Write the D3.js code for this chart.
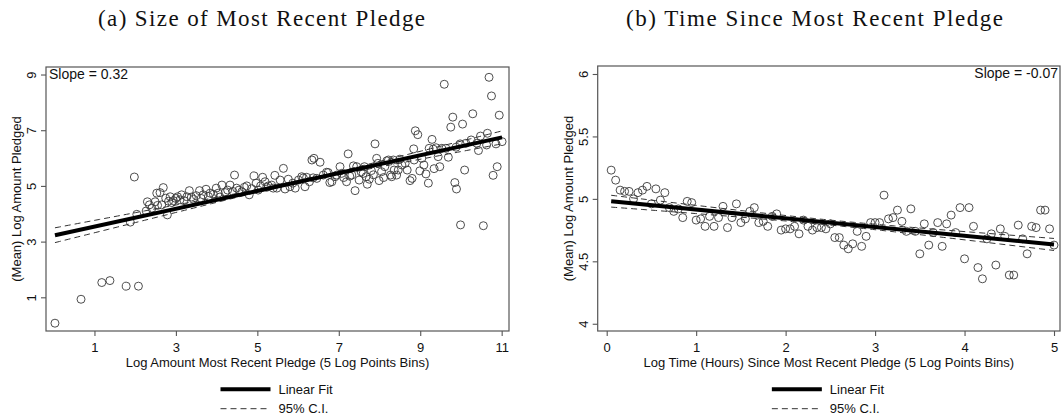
<!DOCTYPE html>
<html>
<head>
<meta charset="utf-8">
<script src="https://cdn.jsdelivr.net/npm/d3@7"></script>
<style>
  html, body { margin: 0; padding: 0; background: #fff; }
  svg { display: block; }
</style>
</head>
<body>
<svg id="chart" width="1064" height="419"></svg>
<script>
// Panel (a): bins of log size of the most recent pledge -> mean log amount pledged
const sizeBins = [
  [0.03,0.07],[0.67,0.93],[1.18,1.53],[1.38,1.60],[1.78,1.40],[1.88,3.70],[1.98,5.32],[2.04,3.98],[2.08,1.40],
  [2.27,4.10],[2.30,4.43],[2.35,4.32],[2.41,4.20],[2.49,4.43],[2.53,4.74],[2.55,4.30],[2.61,4.76],[2.65,4.32],
  [2.69,4.94],[2.75,4.56],[2.79,3.96],[2.82,4.45],[2.86,4.61],[2.90,4.40],[2.94,4.47],[3.00,4.55],[3.04,4.61],
  [3.10,4.50],[3.14,4.68],[3.20,4.47],[3.27,4.61],[3.33,4.83],[3.38,4.60],[3.43,4.52],[3.50,4.65],[3.58,4.83],
  [3.62,4.55],[3.67,4.68],[3.74,4.88],[3.80,4.62],[3.84,4.74],[3.92,4.70],[3.99,4.92],[4.04,4.74],[4.08,4.60],
  [4.13,5.03],[4.21,4.76],[4.27,4.85],[4.33,5.03],[4.40,4.80],[4.44,5.39],[4.49,4.92],[4.55,4.85],[4.62,4.79],
  [4.68,4.95],[4.74,5.00],[4.80,4.68],[4.86,4.90],[4.92,5.36],[4.97,5.10],[5.02,4.85],[5.08,5.00],[5.13,5.31],
  [5.19,5.15],[5.23,4.95],[5.27,5.00],[5.35,5.03],[5.39,4.92],[5.43,5.38],[5.48,4.92],[5.56,5.21],[5.64,5.63],
  [5.68,4.89],[5.76,5.24],[5.80,4.97],[5.87,5.10],[5.93,4.92],[6.01,5.21],[6.09,5.33],[6.13,5.29],[6.17,4.97],
  [6.21,5.31],[6.28,5.15],[6.34,5.93],[6.37,5.29],[6.39,5.99],[6.46,5.27],[6.54,5.85],[6.62,5.39],[6.70,5.49],
  [6.74,5.48],[6.78,5.12],[6.83,5.15],[6.91,5.33],[6.95,5.39],[7.03,5.69],[7.07,5.45],[7.12,5.30],[7.19,5.15],
  [7.23,6.15],[7.27,5.35],[7.32,5.39],[7.36,5.72],[7.40,4.83],[7.44,5.69],[7.50,5.21],[7.55,5.50],[7.60,5.45],
  [7.63,5.69],[7.67,5.33],[7.70,5.06],[7.75,5.24],[7.80,5.55],[7.85,5.40],[7.89,6.51],[7.93,5.99],[7.96,5.81],
  [7.99,5.19],[8.05,5.51],[8.10,5.30],[8.13,5.69],[8.18,5.90],[8.22,5.93],[8.27,5.39],[8.30,5.33],[8.34,5.93],
  [8.36,5.57],[8.42,5.39],[8.46,5.57],[8.50,5.96],[8.55,5.75],[8.63,5.81],[8.68,5.57],[8.75,5.19],[8.80,5.27],
  [8.84,6.33],[8.85,5.93],[8.88,6.98],[8.94,6.84],[8.99,5.54],[9.04,5.99],[9.09,5.75],[9.14,5.43],[9.20,5.10],
  [9.22,6.35],[9.29,6.67],[9.32,6.32],[9.34,5.62],[9.39,6.37],[9.44,6.05],[9.48,5.69],[9.53,6.35],[9.59,8.65],
  [9.63,6.35],[9.69,6.03],[9.75,7.11],[9.80,7.47],[9.85,5.12],[9.88,6.39],[9.89,4.89],[9.98,6.51],[9.99,3.60],
  [10.04,7.22],[10.09,5.57],[10.12,6.53],[10.25,6.65],[10.29,7.59],[10.39,6.53],[10.43,6.27],[10.48,6.79],
  [10.55,3.57],[10.63,6.47],[10.65,6.89],[10.69,8.90],[10.75,8.23],[10.79,5.38],[10.86,6.51],[10.89,5.69],
  [10.94,7.54],[11.01,6.59]
];
const sizeXTicks = [1, 3, 5, 7, 9, 11];
const sizeYTicks = [1, 3, 5, 7, 9];
// linear fit and the shape of its 95% band (half-width grows away from the centre)
const sizeFit = { slope: 0.32, intercept: 3.22 };
const sizeBand = { h0: 0.03, k: 0.045, xc: 5.9 };

// Panel (b): bins of log hours since the most recent pledge -> mean log amount pledged
const timeBins = [
  [0.05,5.23],[0.10,5.15],[0.15,5.07],[0.20,5.06],[0.25,5.06],[0.30,5.00],[0.35,5.05],[0.40,5.07],[0.45,5.10],
  [0.50,4.96],[0.55,5.08],[0.60,4.99],[0.65,5.05],[0.70,4.93],[0.75,4.90],[0.80,4.92],[0.85,4.85],[0.90,4.98],
  [0.95,4.97],[1.00,4.83],[1.05,4.84],[1.10,4.78],[1.15,4.86],[1.20,4.78],[1.25,4.85],[1.30,4.94],[1.35,4.77],
  [1.40,4.85],[1.45,4.96],[1.50,4.81],[1.55,4.84],[1.60,4.90],[1.65,4.93],[1.70,4.81],[1.75,4.82],[1.80,4.78],
  [1.85,4.86],[1.90,4.88],[1.95,4.75],[2.00,4.76],[2.05,4.76],[2.10,4.78],[2.15,4.72],[2.20,4.83],[2.25,4.78],
  [2.30,4.75],[2.35,4.77],[2.40,4.77],[2.45,4.76],[2.50,4.80],[2.55,4.69],[2.60,4.69],[2.65,4.63],[2.70,4.60],
  [2.75,4.64],[2.80,4.74],[2.85,4.62],[2.90,4.70],[2.95,4.81],[3.00,4.81],[3.05,4.81],[3.10,5.03],[3.15,4.84],
  [3.20,4.85],[3.25,4.91],[3.30,4.82],[3.35,4.74],[3.40,4.92],[3.45,4.74],[3.50,4.56],[3.55,4.80],[3.60,4.63],
  [3.65,4.73],[3.70,4.81],[3.75,4.62],[3.80,4.80],[3.85,4.87],[3.90,4.73],[3.95,4.93],[4.00,4.52],[4.05,4.93],
  [4.10,4.78],[4.15,4.45],[4.20,4.36],[4.25,4.68],[4.30,4.72],[4.35,4.47],[4.40,4.76],[4.45,4.70],[4.50,4.39],
  [4.55,4.39],[4.60,4.79],[4.65,4.68],[4.70,4.56],[4.75,4.78],[4.80,4.77],[4.85,4.91],[4.90,4.91],[4.95,4.76],
  [5.00,4.63]
];
const timeXTicks = [0, 1, 2, 3, 4, 5];
const timeYTicks = [4, 4.5, 5, 5.5, 6];
const timeFit = { slope: -0.07, intercept: 4.985 };
const timeBand = { h0: 0.02, k: 0.0175, xc: 2.5 };

const legendLabels = ["Linear Fit", "95% C.I."];

const SANS = "'Liberation Sans', Arial, Helvetica, sans-serif";
const SERIF = "'Liberation Serif', 'Times New Roman', serif";
const INK = "#111";
const FRAME = "#555";

const panels = [
  {
    title: "(a) Size of Most Recent Pledge", titleCx: 261.5, titleW: 327,
    box: { x0: 46, x1: 509, y0: 67, y1: 331 },
    xDomain: [-0.19, 11.18], yDomain: [-0.21, 9.27],
    xTicks: sizeXTicks, yTicks: sizeYTicks,
    bins: sizeBins, fit: sizeFit, band: sizeBand,
    xLabel: "Log Amount Most Recent Pledge (5 Log Points Bins)",
    yLabel: "(Mean) Log Amount Pledged",
    slopeSide: "left"
  },
  {
    title: "(b) Time Since Most Recent Pledge", titleCx: 814.5, titleW: 377,
    box: { x0: 597.7, x1: 1060, y0: 66, y1: 331 },
    xDomain: [-0.1006, 5.067], yDomain: [3.942, 6.064],
    xTicks: timeXTicks, yTicks: timeYTicks,
    bins: timeBins, fit: timeFit, band: timeBand,
    xLabel: "Log Time (Hours) Since Most Recent Pledge (5 Log Points Bins)",
    yLabel: "(Mean) Log Amount Pledged",
    slopeSide: "right"
  }
];

const svg = d3.select("#chart");
svg.append("rect").attr("width", 1064).attr("height", 419).attr("fill", "#fff");

panels.forEach(p => {
  const g = svg.append("g");
  const b = p.box;
  const x = d3.scaleLinear().domain(p.xDomain).range([b.x0, b.x1]);
  const y = d3.scaleLinear().domain(p.yDomain).range([b.y1, b.y0]);

  // panel title
  g.append("text")
    .attr("x", p.titleCx).attr("y", 26)
    .attr("text-anchor", "middle")
    .attr("font-family", SERIF).attr("font-size", 23)
    .attr("fill", INK)
    .attr("textLength", p.titleW).attr("lengthAdjust", "spacing")
    .text(p.title);

  // plot region frame
  g.append("rect")
    .attr("x", b.x0).attr("y", b.y0)
    .attr("width", b.x1 - b.x0).attr("height", b.y1 - b.y0)
    .attr("fill", "#fff").attr("stroke", FRAME).attr("stroke-width", 1.2);

  // bottom axis
  const xa = g.append("g")
    .attr("transform", `translate(0,${b.y1})`)
    .call(d3.axisBottom(x).tickValues(p.xTicks).tickSize(5).tickFormat(d3.format("~g")));
  xa.select(".domain").remove();
  xa.selectAll(".tick line").attr("stroke", FRAME).attr("stroke-width", 1.1);
  xa.selectAll(".tick text")
    .attr("y", 20.5).attr("dy", 0)
    .attr("font-family", SANS).attr("font-size", 13).attr("fill", INK);

  // left axis, labels turned vertical
  const ya = g.append("g")
    .attr("transform", `translate(${b.x0},0)`)
    .call(d3.axisLeft(y).tickValues(p.yTicks).tickSize(5).tickFormat(d3.format("~g")));
  ya.select(".domain").remove();
  ya.selectAll(".tick line").attr("stroke", FRAME).attr("stroke-width", 1.1);
  ya.selectAll(".tick text")
    .attr("transform", "rotate(-90)")
    .attr("x", 0).attr("y", -10).attr("dy", 0)
    .attr("text-anchor", "middle")
    .attr("font-family", SANS).attr("font-size", 13).attr("fill", INK);

  // axis titles
  const cx = (b.x0 + b.x1) / 2, cy = (b.y0 + b.y1) / 2;
  g.append("text")
    .attr("x", cx).attr("y", b.y1 + 35.5)
    .attr("text-anchor", "middle")
    .attr("font-family", SANS).attr("font-size", 13).attr("fill", INK)
    .text(p.xLabel);
  g.append("text")
    .attr("transform", `translate(${b.x0 - 25},${cy}) rotate(-90)`)
    .attr("text-anchor", "middle")
    .attr("font-family", SANS).attr("font-size", 13).attr("fill", INK)
    .text(p.yLabel);

  // binned means as hollow circles
  g.append("g").selectAll("circle")
    .data(p.bins)
    .join("circle")
    .attr("cx", d => x(d[0]))
    .attr("cy", d => y(d[1]))
    .attr("r", 4)
    .attr("fill", "none")
    .attr("stroke", "#3a3a3a")
    .attr("stroke-width", 0.9);

  // fitted line with its confidence band
  const xs = d3.extent(p.bins, d => d[0]);
  const grid = d3.range(0, 101).map(i => xs[0] + (xs[1] - xs[0]) * i / 100);
  const fitY = v => p.fit.intercept + p.fit.slope * v;
  const half = v => Math.sqrt(p.band.h0 ** 2 + (p.band.k * (v - p.band.xc)) ** 2);
  const line = d3.line().x(d => x(d[0])).y(d => y(d[1]));

  [1, -1].forEach(sgn => {
    g.append("path")
      .datum(grid.map(v => [v, fitY(v) + sgn * half(v)]))
      .attr("d", line)
      .attr("fill", "none")
      .attr("stroke", "#333")
      .attr("stroke-width", 1)
      .attr("stroke-dasharray", "6,4");
  });
  g.append("path")
    .datum([[xs[0], fitY(xs[0])], [xs[1], fitY(xs[1])]])
    .attr("d", line)
    .attr("fill", "none")
    .attr("stroke", "#000")
    .attr("stroke-width", 4);

  // slope annotation
  const slopeText = "Slope = " + p.fit.slope.toFixed(2);
  g.append("text")
    .attr("x", p.slopeSide === "left" ? b.x0 + 3 : b.x1 - 2)
    .attr("y", b.y0 + 12)
    .attr("text-anchor", p.slopeSide === "left" ? "start" : "end")
    .attr("font-family", SANS).attr("font-size", 14).attr("fill", INK)
    .text(slopeText);

  // legend below the panel
  const lx = cx - 57;
  const lg = g.append("g");
  lg.append("line")
    .attr("x1", lx).attr("x2", lx + 50)
    .attr("y1", 389.3).attr("y2", 389.3)
    .attr("stroke", "#000").attr("stroke-width", 4);
  lg.append("line")
    .attr("x1", lx).attr("x2", lx + 50)
    .attr("y1", 408.7).attr("y2", 408.7)
    .attr("stroke", "#333").attr("stroke-width", 1)
    .attr("stroke-dasharray", "6,4");
  lg.selectAll("text")
    .data(legendLabels)
    .join("text")
    .attr("x", lx + 58)
    .attr("y", (d, i) => 394 + i * 19.4)
    .attr("font-family", SANS).attr("font-size", 13).attr("fill", INK)
    .text(d => d);
});
</script>
</body>
</html>
